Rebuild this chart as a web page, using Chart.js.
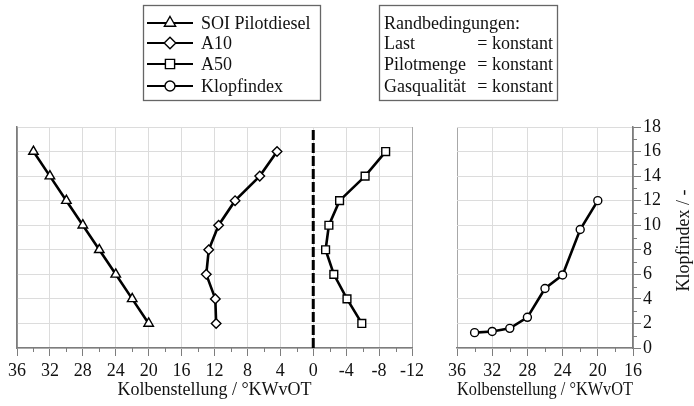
<!DOCTYPE html>
<html>
<head>
<meta charset="utf-8">
<script src="https://cdn.jsdelivr.net/npm/chart.js@4/dist/chart.umd.min.js"></script>
<style>
  html, body { margin: 0; padding: 0; background: #fff; }
  #wrap { position: relative; width: 694px; height: 406px; }
  #wrap canvas { position: absolute; left: 0; top: 0; }
</style>
</head>
<body>
<div id="wrap">
  <canvas id="crankChart" width="694" height="406"></canvas>
  <canvas id="knockChart" width="694" height="406"></canvas>
</div>
<script>
// operating points, one row per point in the left panel
const rowY = [2, 4, 6, 8, 10, 12, 14, 16];
const soiPilot = [20, 22, 24, 26, 28, 30, 32, 34];
const a10 = [11.8, 11.9, 13, 12.7, 11.5, 9.5, 6.5, 4.4];
const a50 = [-5.9, -4.1, -2.5, -1.5, -1.9, -3.2, -6.3, -8.8];
const knockIndex = [12, 9.65, 5.95, 4.85, 2.5, 1.6, 1.35, 1.25];
const tdcLine = 0;

const seriesNames = ['SOI Pilotdiesel', 'A10', 'A50', 'Klopfindex'];
const markerStyles = ['triangle', 'rectRot', 'rect', 'circle'];
const conditionTitle = 'Randbedingungen:';
const conditionNames = ['Last', 'Pilotmenge', 'Gasqualität'];
const conditionValue = '= konstant';
const xTitle = 'Kolbenstellung / °KWvOT';
const yTitleRight = 'Klopfindex / -';

const FONT = "'Liberation Serif', 'Times New Roman', serif";
const AXIS = '#7d7d7d';
const GRID = '#dcdcdc';
const INK = '#111';

Chart.defaults.font.family = FONT;
Chart.defaults.font.size = 18;
Chart.defaults.color = INK;

const markerRadius = { triangle: 5.5, rectRot: 4.8, rect: 5.5, circle: 4 };

function series(xs, ys, style) {
    return {
        data: xs.map((x, i) => ({ x: x, y: ys[i] })),
        showLine: true,
        borderColor: '#000',
        borderWidth: 2.6,
        pointStyle: style,
        pointRadius: markerRadius[style],
        pointBackgroundColor: '#fff',
        pointBorderColor: '#000',
        pointBorderWidth: 1.4
    };
}

// small unlabeled ticks between the labelled ones
const minorTicks = {
    id: 'minorTicks',
    afterDraw(chart) {
        const ctx = chart.ctx, area = chart.chartArea;
        const xs = chart.scales.x, ys = chart.scales.y;
        ctx.save();
        ctx.strokeStyle = AXIS;
        ctx.lineWidth = 1;
        for (let v = xs.min + 2; v < xs.max; v += 4) {
            const px = Math.round(xs.getPixelForValue(v)) + 0.5;
            ctx.beginPath();
            ctx.moveTo(px, area.bottom);
            ctx.lineTo(px, area.bottom + 4);
            ctx.stroke();
        }
        if (ys.options.position === 'right') {
            for (let v = 1; v < ys.max; v += 2) {
                const py = Math.round(ys.getPixelForValue(v)) + 0.5;
                ctx.beginPath();
                ctx.moveTo(area.right, py);
                ctx.lineTo(area.right + 4, py);
                ctx.stroke();
            }
        }
        ctx.restore();
    }
};

// legend box and the box with boundary conditions
const legendBoxes = {
    id: 'legendBoxes',
    afterDraw(chart) {
        const ctx = chart.ctx;
        const rows = [23, 43, 64, 86];
        ctx.save();
        ctx.strokeStyle = '#666';
        ctx.lineWidth = 1.3;
        ctx.strokeRect(143.5, 5.5, 177, 95);
        ctx.strokeRect(379.5, 5.5, 178, 95);

        ctx.font = '18px ' + FONT;
        ctx.textBaseline = 'middle';
        ctx.fillStyle = INK;
        seriesNames.forEach((name, i) => {
            ctx.strokeStyle = '#000';
            ctx.lineWidth = 2;
            ctx.beginPath();
            ctx.moveTo(147, rows[i]);
            ctx.lineTo(193, rows[i]);
            ctx.stroke();
            ctx.fillStyle = '#fff';
            ctx.lineWidth = 1.4;
            Chart.helpers.drawPoint(ctx, {
                pointStyle: markerStyles[i],
                radius: markerRadius[markerStyles[i]] + 1,
                rotation: 0,
                borderWidth: 1.4
            }, 170, rows[i]);
            ctx.fillStyle = INK;
            ctx.textAlign = 'left';
            ctx.fillText(name, 201, rows[i] + 1);
        });

        ctx.textAlign = 'left';
        ctx.fillText(conditionTitle, 384, rows[0] + 1);
        conditionNames.forEach((name, i) => {
            ctx.textAlign = 'left';
            ctx.fillText(name, 384, rows[i + 1] + 1);
            ctx.textAlign = 'right';
            ctx.fillText(conditionValue, 553, rows[i + 1] + 1);
        });
        ctx.restore();
    }
};

// right axis title reads bottom to top
const rightTitle = {
    id: 'rightTitle',
    afterDraw(chart) {
        const ctx = chart.ctx, area = chart.chartArea;
        ctx.save();
        ctx.translate(684, (area.top + area.bottom) / 2 + 3);
        ctx.rotate(-Math.PI / 2);
        ctx.font = '18px ' + FONT;
        ctx.fillStyle = INK;
        ctx.textAlign = 'center';
        ctx.textBaseline = 'middle';
        ctx.fillText(yTitleRight, 0, 0);
        ctx.restore();
    }
};

function xScale(min, max) {
    return {
        type: 'linear',
        reverse: true,
        min: min,
        max: max,
        afterFit: s => { s.height = 58; },
        ticks: { stepSize: 4, padding: 4, maxRotation: 0, autoSkip: false },
        grid: {
            color: c => (c.tick && (c.tick.value === min || c.tick.value === max)) ? '#a8a8a8' : GRID,
            tickColor: AXIS,
            tickLength: 8
        },
        border: { color: AXIS, width: 1.5 },
        title: { display: true, text: xTitle, padding: { top: 0, bottom: 5 } }
    };
}

new Chart(document.getElementById('crankChart'), {
    type: 'scatter',
    data: {
        datasets: [
            series(soiPilot, rowY, 'triangle'),
            series(a10, rowY, 'rectRot'),
            series(a50, rowY, 'rect'),
            {
                data: [{ x: tdcLine, y: 0 }, { x: tdcLine, y: 18 }],
                showLine: true,
                borderColor: '#000',
                borderWidth: 3,
                borderDash: [10, 3],
                pointRadius: 0
            }
        ]
    },
    options: {
        responsive: false,
        animation: false,
        layout: { padding: { left: 17, right: 282, top: 127, bottom: 0 } },
        plugins: { legend: { display: false }, tooltip: { enabled: false } },
        scales: {
            x: xScale(-12, 36),
            y: {
                min: 0, max: 18,
                afterFit: s => { s.width = 0; },
                ticks: { display: false, stepSize: 2, autoSkip: false },
                grid: { color: GRID, drawTicks: false },
                border: { color: AXIS, width: 1.5 }
            }
        }
    },
    plugins: [minorTicks, legendBoxes]
});

new Chart(document.getElementById('knockChart'), {
    type: 'scatter',
    data: {
        datasets: [series(soiPilot, knockIndex, 'circle')]
    },
    options: {
        responsive: false,
        animation: false,
        layout: { padding: { left: 457, right: 0, top: 127, bottom: 0 } },
        plugins: { legend: { display: false }, tooltip: { enabled: false } },
        scales: {
            x: xScale(16, 36),
            y: {
                position: 'right',
                min: 0, max: 18,
                afterFit: s => { s.width = 61; },
                ticks: { stepSize: 2, padding: 2, autoSkip: false },
                grid: { color: GRID, tickColor: AXIS, tickLength: 8 },
                border: { color: AXIS, width: 1.5 }
            }
        }
    },
    plugins: [minorTicks, rightTitle]
});
</script>
</body>
</html>
